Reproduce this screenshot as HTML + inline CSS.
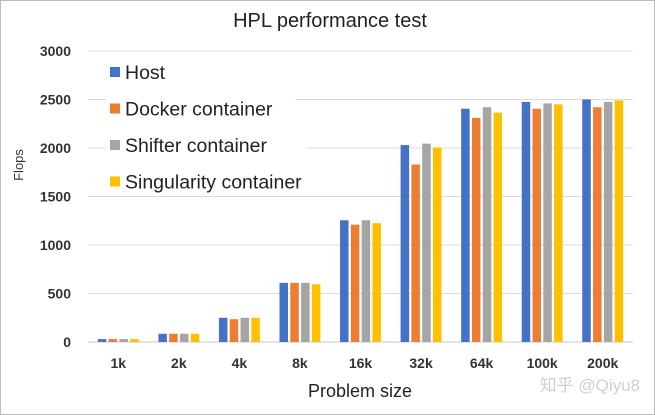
<!DOCTYPE html>
<html><head><meta charset="utf-8"><style>
body{margin:0;background:#fff}
svg{display:block;font-family:"Liberation Sans","Noto Sans CJK SC",sans-serif}
</style></head><body>
<svg width="655" height="415" viewBox="0 0 655 415">
<rect x="0.5" y="0.5" width="654" height="414" fill="#fff" stroke="#bdbdbd"/>
<text x="330" y="27" font-size="20" text-anchor="middle" fill="#222">HPL performance test</text>
<g id="grid"></g><g id="yt"></g><g id="bars"></g><g id="xt"></g>
<text transform="translate(23,165) rotate(-90)" font-size="13" text-anchor="middle" fill="#333">Flops</text>
<text x="360" y="397" font-size="18" text-anchor="middle" fill="#222">Problem size</text>
<g id="legend"></g>
<text x="640" y="391" font-size="17" text-anchor="end" fill="#d0d0d0">知乎 @Qiyu8</text>
</svg>
<script>
const categories=["1k","2k","4k","8k","16k","32k","64k","100k","200k"];
const seriesNames=["Host","Docker container","Shifter container","Singularity container"];
const host=[30,85,250,610,1255,2030,2405,2475,2500];
const docker=[30,85,235,610,1210,1830,2310,2405,2420];
const shifter=[30,85,250,610,1255,2045,2420,2460,2475];
const singularity=[30,85,250,595,1225,2005,2365,2450,2490];
const yTicks=[0,500,1000,1500,2000,2500,3000];
const colors=["#4472c4","#ed7d31","#a5a5a5","#ffc000"];
const series=[host,docker,shifter,singularity];
const NS="http://www.w3.org/2000/svg";
const y0=342,y1=51,xL=88,xR=633;
const ys=v=>y0-(v/3000)*(y0-y1);
const gw=(xR-xL)/categories.length;
const xc=i=>xL+gw*(i+0.5);
function mk(t,a,p){const e=document.createElementNS(NS,t);for(const k in a)e.setAttribute(k,a[k]);p.appendChild(e);return e;}
const grid=document.getElementById('grid'),yt=document.getElementById('yt'),bars=document.getElementById('bars'),xt=document.getElementById('xt'),lg=document.getElementById('legend');
yTicks.forEach(v=>{
 const l=mk('line',{x1:xL,x2:xR,y1:ys(v),y2:ys(v),stroke:v===0?'#c8c8c8':'#dcdcdc','stroke-width':1},grid);
 
 
 const t=mk('text',{x:71,y:ys(v)+5,'font-size':14,'font-weight':'bold','text-anchor':'end',fill:'#333'},yt);
 t.textContent=v;
 
 
});
const bw=8.5,step=10.8;
categories.forEach((c,i)=>{
 series.forEach((s,j)=>{
  const x=xc(i)+(j-1.5)*step-bw/2;
  const r=mk('rect',{x:x,y:ys(s[i]),width:bw,height:y0-ys(s[i]),fill:colors[j]},bars);
  
  
 });
 const t=mk('text',{x:xc(i),y:368,'font-size':14,'font-weight':'bold','text-anchor':'middle',fill:'#333'},xt);
 t.textContent=c;
 
 
});
seriesNames.forEach((n,j)=>{
 const y=72+j*36.5;
 const bg=mk('rect',{x:106,y:y-13,width:n.length*10.2+26,height:26,fill:'#fff'},lg);
 
 
 const r=mk('rect',{x:110,y:y-5,width:10,height:10,fill:colors[j]},lg);
 
 
 const t=mk('text',{x:125,y:y+7,'font-size':19.5,fill:'#222'},lg);
 t.textContent=n;
 
 
});
</script>
</body></html>
